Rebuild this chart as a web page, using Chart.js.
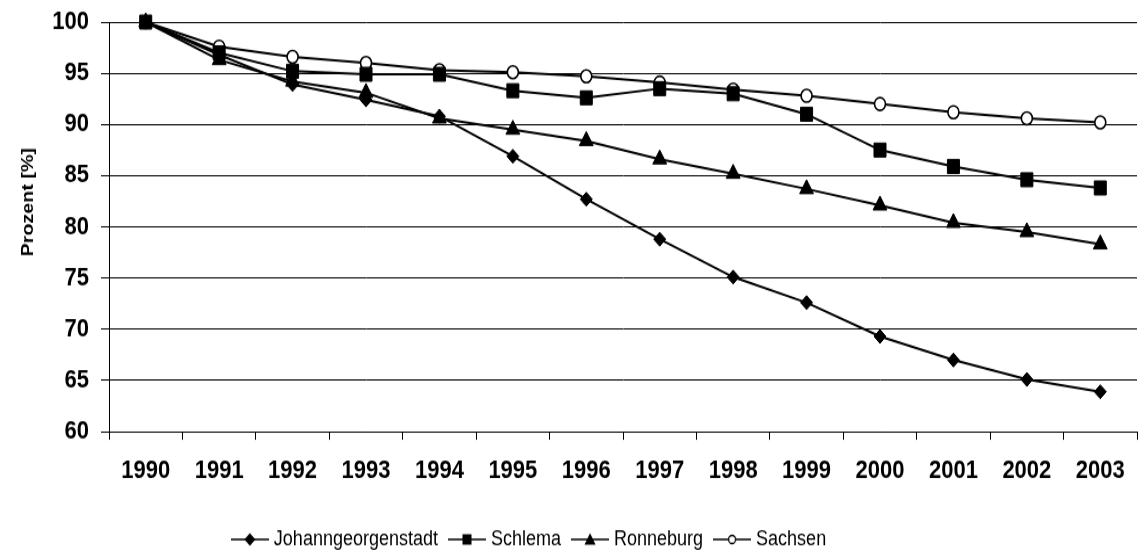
<!DOCTYPE html>
<html>
<head>
<meta charset="utf-8">
<title>Bevölkerungsentwicklung 1990–2003</title>
<script src="https://cdn.jsdelivr.net/npm/chart.js@4/dist/chart.umd.min.js"></script>
<style>
  html, body { margin: 0; padding: 0; background: #fff; }
</style>
</head>
<body>
<!-- drawn at 481px tall and shown at 558px, which gives the tall, narrow lettering -->
<canvas id="chart" width="1139" height="481" style="display:block;width:1139px;height:558px"></canvas>
<script>
// Years on the horizontal axis
const years = ['1990', '1991', '1992', '1993', '1994', '1995', '1996',
               '1997', '1998', '1999', '2000', '2001', '2002', '2003'];

// Population as a percentage of 1990
const johanngeorgenstadt = [100, 96.8, 93.9, 92.4, 90.8, 86.9, 82.7, 78.8, 75.1, 72.6, 69.3, 67.0, 65.1, 63.9];
const schlema            = [100, 97.0, 95.2, 94.9, 94.9, 93.3, 92.6, 93.5, 93.0, 91.0, 87.5, 85.9, 84.6, 83.8];
const ronneburg          = [100, 96.3, 94.2, 93.1, 90.6, 89.5, 88.4, 86.6, 85.2, 83.7, 82.1, 80.4, 79.5, 78.3];
const sachsen            = [100, 97.6, 96.6, 96.0, 95.3, 95.1, 94.7, 94.1, 93.4, 92.8, 92.0, 91.2, 90.6, 90.2];

// Value axis range
const yMin = 60;
const yMax = 100;
const yStep = 5;

const FONT = "'Liberation Sans', Arial, Helvetica, sans-serif";
Chart.defaults.font.family = FONT;
Chart.defaults.color = '#000';

// Small legend symbol: a line with the series marker in its middle
function legendSymbol(style) {
  const c = document.createElement('canvas');
  c.width = 38; c.height = 14;
  const g = c.getContext('2d');
  const cx = 19, cy = 7;
  g.strokeStyle = '#000';
  g.lineWidth = 1.7;
  g.beginPath(); g.moveTo(0, cy); g.lineTo(38, cy); g.stroke();
  g.fillStyle = '#000';
  g.beginPath();
  if (style === 'rectRot') {
    g.moveTo(cx, cy - 5.5); g.lineTo(cx + 5.5, cy); g.lineTo(cx, cy + 5.5); g.lineTo(cx - 5.5, cy); g.closePath(); g.fill();
  } else if (style === 'rect') {
    g.rect(cx - 4.5, cy - 4.5, 9, 9); g.fill();
  } else if (style === 'triangle') {
    g.moveTo(cx, cy - 5.5); g.lineTo(cx + 5.5, cy + 4.5); g.lineTo(cx - 5.5, cy + 4.5); g.closePath(); g.fill();
  } else {
    g.fillStyle = '#fff'; g.lineWidth = 1.3;
    g.arc(cx, cy, 3.5, 0, Math.PI * 2); g.fill(); g.stroke();
  }
  return c;
}

function series(label, data, style, radius, fill) {
  return {
    label, data,
    borderColor: '#000',
    borderWidth: 2,
    backgroundColor: fill,
    pointStyle: style,
    pointRadius: radius,
    pointHoverRadius: radius,
    pointBorderColor: '#000',
    pointBackgroundColor: fill,
    pointBorderWidth: style === 'circle' ? 1.6 : 1,
    tension: 0,
    clip: false,
    legendSymbol: legendSymbol(style)
  };
}

// Places the legend row where it sits under the plot
const legendShift = {
  id: 'legendShift',
  afterLayout(chart, args, opts) {
    const lg = chart.legend;
    if (!lg) return;
    lg.left += opts.dx; lg.right += opts.dx;
    lg.top += opts.dy; lg.bottom += opts.dy;
  }
};

new Chart(document.getElementById('chart'), {
  type: 'line',
  data: {
    labels: years,
    datasets: [
      series('Johanngeorgenstadt', johanngeorgenstadt, 'rectRot', 6, '#000'),
      series('Schlema', schlema, 'rect', 8.5, '#000'),
      series('Ronneburg', ronneburg, 'triangle', 8, '#000'),
      series('Sachsen', sachsen, 'circle', 5.5, '#fff')
    ]
  },
  plugins: [legendShift],
  options: {
    responsive: false,
    animation: false,
    devicePixelRatio: 1,
    layout: { autoPadding: false, padding: { top: 19, right: 2, left: 0, bottom: 0 } },
    plugins: {
      legendShift: { dx: -38, dy: 3 },
      tooltip: { enabled: false },
      title: { display: false },
      legend: {
        position: 'bottom',
        align: 'center',
        labels: {
          usePointStyle: true,
          pointStyleWidth: 30,
          padding: 14,
          color: '#000',
          font: { size: 18, family: FONT },
          generateLabels(chart) {
            return chart.data.datasets.map((ds, i) => ({
              text: ds.label,
              pointStyle: ds.legendSymbol,
              fillStyle: '#000',
              strokeStyle: '#000',
              lineWidth: 0,
              hidden: false,
              datasetIndex: i
            }));
          }
        }
      }
    },
    scales: {
      x: {
        type: 'category',
        offset: true,
        afterFit(scale) {
          scale.height = 66.9;
          scale.paddingLeft = 0;
          scale.paddingRight = 0;
        },
        grid: {
          display: true,
          offset: true,
          drawOnChartArea: false,
          drawTicks: true,
          tickLength: 7,
          color: '#000',
          lineWidth: 1
        },
        border: { display: true, color: '#000', width: 1 },
        ticks: {
          padding: 14,
          maxRotation: 0,
          autoSkip: false,
          color: '#000',
          font: { size: 22, weight: 'bold', family: FONT }
        }
      },
      y: {
        min: yMin,
        max: yMax,
        afterFit(scale) {
          scale.width = 109;
          scale.paddingTop = 0;
          scale.paddingBottom = 0;
        },
        grid: {
          color: '#000',
          lineWidth: 1,
          drawTicks: true,
          tickLength: 8
        },
        border: { display: true, color: '#000', width: 1 },
        ticks: {
          stepSize: yStep,
          padding: 12,
          color: '#000',
          font: { size: 22, weight: 'bold', family: FONT }
        },
        title: {
          display: true,
          // leading spaces lift the visible words above the middle of the axis
          text: '         Prozent [%]',
          color: '#000',
          padding: { top: 18, bottom: 0 },
          font: { size: 17, weight: 'bold', family: FONT }
        }
      }
    }
  }
});
</script>
</body>
</html>
